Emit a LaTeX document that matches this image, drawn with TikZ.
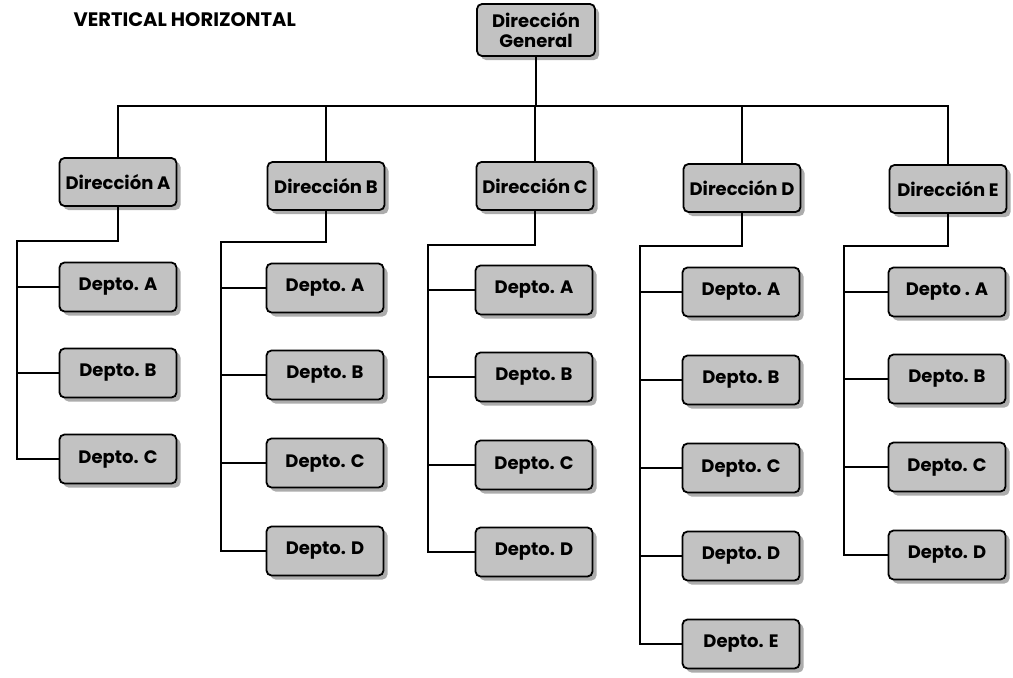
\documentclass[tikz,border=0pt]{standalone}
\usepackage{fontspec}
\newfontfamily\orgfont{Poppins}
\usetikzlibrary{shadows}
\begin{document}
\begin{tikzpicture}[x=1pt,y=-1pt,
  unit/.style={draw=black, line width=1.8pt, fill=gray!48, rounded corners=5pt,
    minimum width=117pt, inner sep=0pt, align=center,
    font=\orgfont\bfseries\fontsize{18}{20}\selectfont,
    drop shadow={shadow xshift=4pt, shadow yshift=-4pt, fill=gray!65, opacity=1}},
  head/.style={unit, minimum height=48pt},
  dept/.style={unit, minimum height=49pt},
  link/.style={draw=black, line width=1.4pt}]
\useasboundingbox (0,0) rectangle (1013,678);

\node[anchor=west, font=\orgfont\bfseries\fontsize{19.5}{21}\selectfont] (title) at (70,20) {VERTICAL HORIZONTAL};

% general management
\node[unit, minimum width=118pt, minimum height=52pt, font=\orgfont\bfseries\fontsize{18}{19.5}\selectfont] (G) at (536,30) {Dirección\\General};

% directorates
\node[head] (DA) at (118,182) {Dirección A};
\node[head] (DB) at (326,186) {Dirección B};
\node[head] (DC) at (535,186) {Dirección C};
\node[head] (DD) at (742,188) {Dirección D};
\node[head] (DE) at (948,189) {Dirección E};

% departments
\node[dept] (A1) at (118,287) {Depto. A};
\node[dept] (A2) at (118,373) {Depto. B};
\node[dept] (A3) at (118,459) {Depto. C};

\node[dept] (B1) at (325,288) {Depto. A};
\node[dept] (B2) at (325,375) {Depto. B};
\node[dept] (B3) at (325,463) {Depto. C};
\node[dept] (B4) at (325,551) {Depto. D};

\node[dept] (C1) at (534,290) {Depto. A};
\node[dept] (C2) at (534,377) {Depto. B};
\node[dept] (C3) at (534,465) {Depto. C};
\node[dept] (C4) at (534,552) {Depto. D};

\node[dept] (D1) at (741,292) {Depto. A};
\node[dept] (D2) at (741,380) {Depto. B};
\node[dept] (D3) at (741,468) {Depto. C};
\node[dept] (D4) at (741,556) {Depto. D};
\node[dept] (D5) at (741,644) {Depto. E};

\node[dept] (E1) at (947,292) {Depto . A};
\node[dept] (E2) at (947,379) {Depto. B};
\node[dept] (E3) at (947,467) {Depto. C};
\node[dept] (E4) at (947,555) {Depto. D};

% top bus
\coordinate (bus) at (536,106);
\path[link] (G.south) -- (bus);
\path[link] (DA.north) |- (bus) -| (DE.north);
\path[link] (DB.north) -- (DB.north |- bus);
\path[link] (DC.north) -- (DC.north |- bus);
\path[link] (DD.north) -- (DD.north |- bus);

% column spines
\coordinate (sA) at (17,241);
\coordinate (sB) at (221,242);
\coordinate (sC) at (428,245);
\coordinate (sD) at (640,246);
\coordinate (sE) at (844,246);

\path[link] (DA.south) |- (sA) |- (A3.west);
\foreach \n in {A1,A2} \path[link] (\n.west) -- (\n.west -| sA);

\path[link] (DB.south) |- (sB) |- (B4.west);
\foreach \n in {B1,B2,B3} \path[link] (\n.west) -- (\n.west -| sB);

\path[link] (DC.south) |- (sC) |- (C4.west);
\foreach \n in {C1,C2,C3} \path[link] (\n.west) -- (\n.west -| sC);

\path[link] (DD.south) |- (sD) |- (D5.west);
\foreach \n in {D1,D2,D3,D4} \path[link] (\n.west) -- (\n.west -| sD);

\path[link] (DE.south) |- (sE) |- (E4.west);
\foreach \n in {E1,E2,E3} \path[link] (\n.west) -- (\n.west -| sE);
\end{tikzpicture}
\end{document}
